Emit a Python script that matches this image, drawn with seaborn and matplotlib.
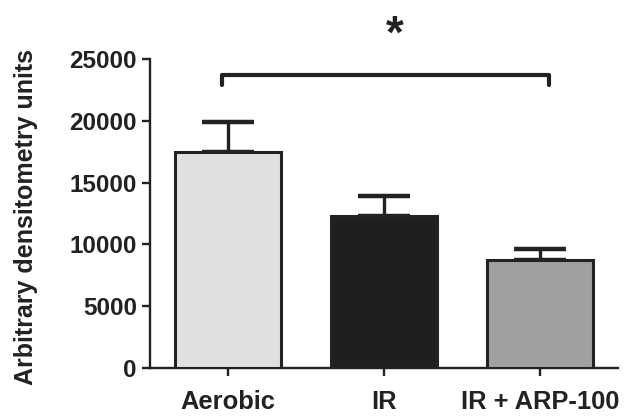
import matplotlib
matplotlib.use("Agg")
import matplotlib.pyplot as plt
import seaborn as sns
import pandas as pd

groups = ["Aerobic", "IR", "IR + ARP-100"]
means = [17500, 12300, 8700]
sem_upper = [2400, 1600, 900]
bar_colors = ["#e0e0e0", "#1e1f21", "#a0a0a0"]
y_ticks = [0, 5000, 10000, 15000, 20000, 25000]
ylabel = "Arbitrary densitometry units"

# significance bracket between Aerobic and IR + ARP-100
bracket_x = [-0.04, 2.06]
bracket_y = 23700
bracket_drop = 800
star = "*"

sns.set_theme(style="ticks")
plt.rcParams["font.family"] = ["Liberation Sans", "DejaVu Sans"]
plt.rcParams["font.weight"] = "bold"

df = pd.DataFrame({"group": groups, "mean": means})

fig = plt.figure(figsize=(6.25, 4.16), dpi=100)
ax = fig.add_axes([0.24, 0.1154, 0.749, 0.7428])

edge = "#222222"
sns.barplot(data=df, x="group", y="mean", hue="group", palette=bar_colors,
            order=groups, hue_order=groups, errorbar=None, width=0.675,
            edgecolor=edge, linewidth=2.2, legend=False, ax=ax, zorder=3)

ax.errorbar(range(len(groups)), means, yerr=[[0] * len(groups), sem_upper],
            fmt="none", ecolor=edge, elinewidth=2.4, capsize=19, capthick=3.2,
            zorder=2)

ax.plot([bracket_x[0], bracket_x[0], bracket_x[1], bracket_x[1]],
        [bracket_y - bracket_drop, bracket_y, bracket_y, bracket_y - bracket_drop],
        color=edge, lw=3, solid_capstyle="round", clip_on=False)
ax.text(1.07, 26900, star, ha="center", va="center", fontsize=33,
        fontweight="bold", color=edge, clip_on=False)

ax.set_xlim(-0.5, 2.5)
ax.set_ylim(0, 25000)
ax.set_yticks(y_ticks)
ax.set_xlabel("")
ax.set_ylabel(ylabel, fontsize=18, fontweight="bold", color=edge)
ax.yaxis.set_label_coords(-0.24, 0.49)

for side in ["top", "right"]:
    ax.spines[side].set_visible(False)
for side in ["left", "bottom"]:
    ax.spines[side].set_linewidth(1.7)
    ax.spines[side].set_color(edge)

ax.tick_params(axis="y", length=6, width=1.7, color=edge, pad=3.5,
               labelsize=17.5, labelcolor=edge)
ax.tick_params(axis="x", length=6, width=1.7, color=edge, pad=10,
               labelsize=18.4, labelcolor=edge)
for lbl in ax.get_xticklabels() + ax.get_yticklabels():
    lbl.set_fontweight("bold")

fig.savefig("out.png", dpi=100)
plt.close(fig)
